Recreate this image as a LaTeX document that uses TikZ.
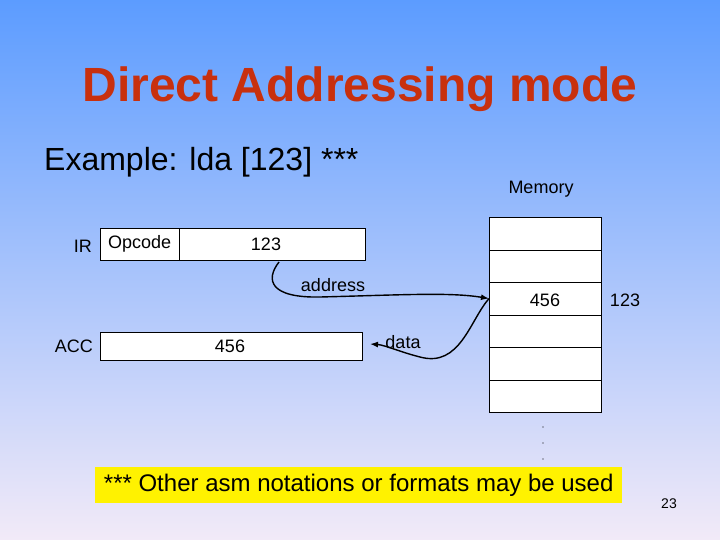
\documentclass[tikz,border=0pt]{standalone}
\usepackage{fontspec}
\setmainfont{Liberation Sans}
\usetikzlibrary{arrows.meta}
\definecolor{titlec}{HTML}{C8300E}
\definecolor{topc}{HTML}{5C9CFF}
\definecolor{botc}{HTML}{F2EAF8}
\begin{document}
\begin{tikzpicture}[x=1pt,y=-1pt,
  reg/.style={draw=black,fill=white,line width=0.6pt},
  lbl/.style={font=\fontsize{18}{20}\selectfont,inner sep=0pt},
  conn/.style={line width=1.4pt,-{Latex[length=8pt,width=6pt]}}]
\shade[top color=topc,bottom color=botc] (0,0) rectangle (720,540);
\useasboundingbox (0,0) rectangle (720,540);
\node[text=titlec,font=\bfseries\fontsize{48}{54}\selectfont] (title) at (360,89) {Direct Addressing mode};
\node[anchor=west,font=\fontsize{32}{36}\selectfont,inner sep=0pt] (ex) at (44,162) {Example: lda [123] ***};
\node[lbl] (memt) at (541,189) {Memory};
% IR
\node[reg,minimum width=79pt,minimum height=32pt,anchor=north west,inner sep=0pt] (op) at (100,228) {};
\node[reg,minimum width=186pt,minimum height=32pt,anchor=north west,inner sep=0pt] (addr) at (179,228) {};
\node[lbl,anchor=west] at (108,244) {Opcode};
\node[lbl] (v123) at (266,244) {123};
\node[lbl,anchor=east] (ir) at (92,246) {IR};
% ACC
\node[reg,minimum width=262pt,minimum height=28pt,anchor=north west,inner sep=0pt] (acc) at (100,332) {};
\node[lbl] at (230,346) {456};
\node[lbl,anchor=east] (accl) at (93,346) {ACC};
% memory
\foreach \i in {0,...,5}{
  \node[reg,minimum width=112pt,minimum height=32.5pt,anchor=north west,inner sep=0pt] (m\i) at (489,{217+32.5*\i}) {};
}
\node[lbl] at (545,300) {456};
\node[lbl] (a123) at (625,300) {123};
\foreach \y in {427,443,459}{\fill (543,\y) circle (0.6pt);}
% arrows
\coordinate (s1) at (279,262);
\draw[conn] (s1) .. controls (265,280) and (270,298) .. (320,297) .. controls (400,295) and (450,292) .. (m2.west);
\node[lbl] at (333,285) {address};
\draw[conn] (m2.west) .. controls (470,320) and (460,368) .. (420,357) .. controls (400,352) and (385,345) .. (370,344);
\node[lbl] at (403,342) {data};
% note
\node[fill=yellow,minimum width=527pt,minimum height=36pt,anchor=north west,inner sep=0pt] (note) at (95,467) {};
\node[font=\fontsize{24}{28}\selectfont] at (note.center) {*** Other asm notations or formats may be used};
\node[font=\fontsize{14}{16}\selectfont] at (669,504) {23};
\end{tikzpicture}
\end{document}
